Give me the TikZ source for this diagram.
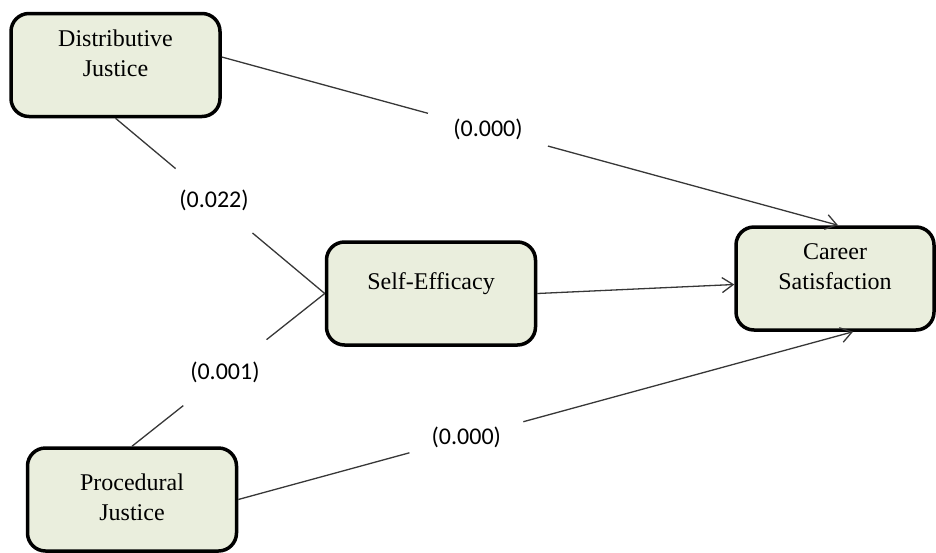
\documentclass[tikz,border=0pt]{standalone}
\usepackage{fontspec}
\setmainfont{Liberation Serif}
\newfontfamily\lblfont{Carlito}
\usepackage{tikz}
\usetikzlibrary{arrows.meta,calc}

\definecolor{boxfill}{RGB}{234,238,221}
\definecolor{linegray}{RGB}{55,55,55}

\begin{document}
\begin{tikzpicture}[x=1pt,y=-1pt,
	box/.style={draw,line width=3.5pt,rounded corners=18pt,fill=boxfill,minimum width=209pt,minimum height=103pt,inner sep=0pt,align=center,font=\fontsize{24}{30}\selectfont,text depth=24pt},
	link/.style={draw=linegray,line width=1.3pt},
	arr/.style={link,-{Straight Barb[length=11pt,width=15pt]}},
	pval/.style={circle,fill=white,inner sep=0pt,font=\lblfont\fontsize{24}{28}\selectfont}]
	\useasboundingbox (0,0) rectangle (936,552);

	\node[box] (dj) at (115.5,65) {Distributive\\Justice};
	\node[box] (se) at (431,293.5) {Self-Efficacy};
	\node[box,minimum width=198pt] (cs) at (835,278.5) {Career\\Satisfaction};
	\node[box,text depth=5pt] (pj) at (132,499.5) {Procedural\\Justice};

	\draw[arr] ($(dj.east)+(0,-8)$) -- node[pval,pos=0.432,minimum size=124pt] (p1) {(0.000)} ($(cs.north)+(3,0)$);
	\draw[link] (dj.south) -- node[pval,pos=0.471,minimum size=100pt] (p2) {(0.022)} (se.west);
	\draw[link] (pj.north) -- node[pval,pos=0.482,minimum size=106pt] (p3) {(0.001)} (se.west);
	\draw[arr] (se.east) -- ($(cs.west)+(0,6)$);
	\draw[arr] (pj.east) -- node[pval,pos=0.371,minimum size=118pt] (p4) {(0.000)} ($(cs.south)+(18,0)$);
\end{tikzpicture}
\end{document}
